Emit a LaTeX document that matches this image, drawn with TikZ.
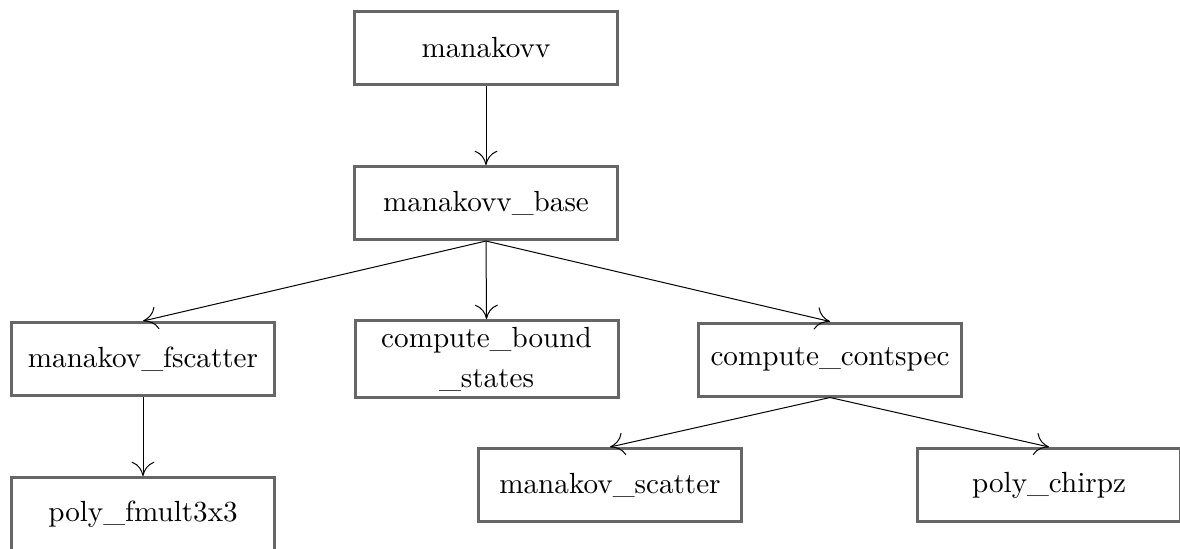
\documentclass[tikz,border=0pt]{standalone}
\usetikzlibrary{arrows.meta}
\newdimen\pxu
\pxu=0.35pt
\tikzset{
  x=\pxu, y=-\pxu,
  modbox/.style={draw=black!60, line width=3\pxu, fill=white, inner sep=1pt,
    minimum width=263\pxu, minimum height=73\pxu, align=center,
    font=\fontsize{10.2pt}{14pt}\selectfont},
  call/.style={draw=black, line width=0.35pt, -{To[length=5pt,width=8pt]}},
}
\begin{document}
\begin{tikzpicture}
\useasboundingbox (0,0) rectangle (1180,548);
\node[modbox] (top)   at (486,48)    {manakovv};
\node[modbox] (base)  at (486,203)   {manakovv\_base};
\node[modbox] (fsc)   at (143,359)   {manakov\_fscatter};
\node[modbox, minimum height=77\pxu] (bnd) at (486.5,359) {compute\_bound\\\_states};
\node[modbox] (cont)  at (830,359.5) {compute\_contspec};
\node[modbox] (fmul)  at (143,514)   {poly\_fmult3x3};
\node[modbox] (scat)  at (610,485)   {manakov\_scatter};
\node[modbox] (chirp) at (1049,485)  {poly\_chirpz};
\draw[call] (top.south)  -- (base.north);
\draw[call] (base.south) -- (fsc.north);
\draw[call] (base.south) -- (bnd.north);
\draw[call] (base.south) -- (cont.north);
\draw[call] (fsc.south)  -- (fmul.north);
\draw[call] (cont.south) -- (scat.north);
\draw[call] (cont.south) -- (chirp.north);
\end{tikzpicture}
\end{document}
